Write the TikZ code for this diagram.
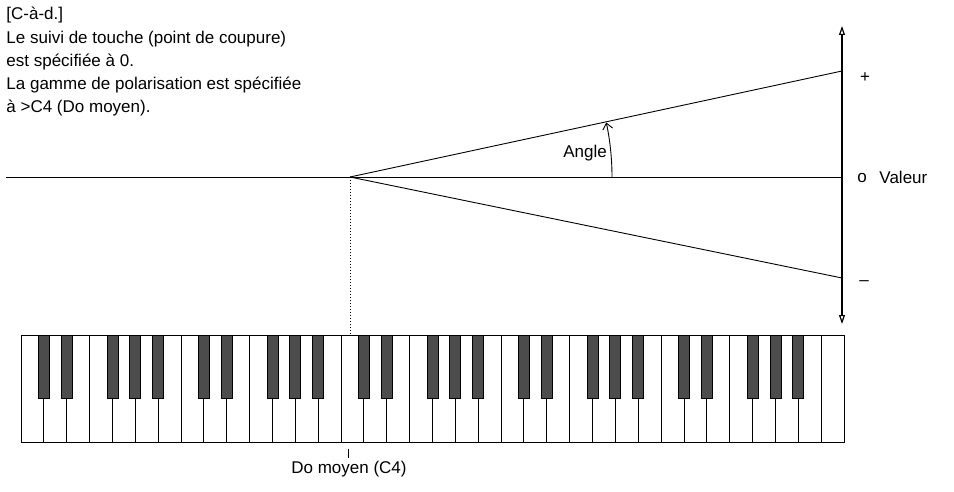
\documentclass[tikz,border=0pt]{standalone}
\usepackage{fontspec}
\setmainfont{Liberation Sans}
\usetikzlibrary{arrows.meta}
\begin{document}
\begin{tikzpicture}[x=1pt,y=-1pt,line width=0.9pt,
  txt/.style={font=\fontsize{17}{19}\selectfont,inner sep=0pt},
  white/.style={draw=black,fill=white,line width=0.9pt},
  blackkey/.style={draw=black,fill=black!70,line width=0.8pt}]
\useasboundingbox (0,0) rectangle (954,492);
% text
\node[txt,anchor=west] (t1) at (6,15) {[C-à-d.]};
\node[txt,anchor=west] (t2) at (6,39) {Le suivi de touche (point de coupure)};
\node[txt,anchor=west] (t3) at (6,62) {est spécifiée à 0.};
\node[txt,anchor=west] (t4) at (6,85) {La gamme de polarisation est spécifiée};
\node[txt,anchor=west] (t5) at (6,108) {à >C4 (Do moyen).};
% graph
\coordinate (p) at (350,177);
\coordinate (l) at (6,177);
\coordinate (z) at (842,177);
\coordinate (up) at (842,71);
\coordinate (dn) at (842,278);
\coordinate (at) at (842,26);
\coordinate (ab) at (842,324);
\draw (l) -- (z);
\draw (p) -- (up);
\draw (p) -- (dn);
\draw[line width=1.2pt,-{Triangle[open,length=9pt,width=6pt]}] (z) -- (at);
\draw[line width=1.2pt,-{Triangle[open,length=9pt,width=6pt]}] (z) -- (ab);
\draw[-{Straight Barb[length=6pt,width=10pt]}] (612,177) arc[start angle=0,end angle=-12,radius=262] coordinate (ae);
\node[txt] (ang) at (585,153) {Angle};
\node[txt] (plus) at (865,78) {+};
\node[txt] (zero) at (862,178) {o};
\node[txt,anchor=west] (val) at (879,177) {Valeur};
\node[txt] (minus) at (864,283) {–};
% keyboard
\def\kx{21}\def\kw{22.861}
\foreach \i in {0,...,35}{
  \draw[white] ({\kx+\i*\kw},335) rectangle ({\kx+(\i+1)*\kw},442);
}
\foreach \o in {0,...,4}{
  \foreach \b in {1,2,4,5,6}{
    \pgfmathsetmacro\cx{\kx+(\o*7+\b)*\kw}
    \draw[blackkey] (\cx-5.5,335) rectangle (\cx+5.5,398);
  }
}
\coordinate (kc) at (350,335);
\draw[dotted,line width=1pt] (p) -- (kc);
\draw[line width=0.8pt] (348,449) -- (348,458);
\node[txt] (c4) at (349,469) {Do moyen (C4)};
\end{tikzpicture}
\end{document}
